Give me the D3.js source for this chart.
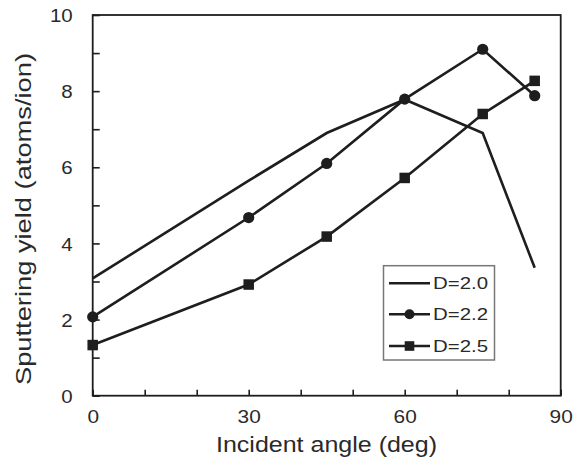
<!DOCTYPE html>
<html><head><meta charset="utf-8">
<script src="https://cdn.jsdelivr.net/npm/d3@7/dist/d3.min.js"></script>
<style>body{margin:0;background:#fff}svg{display:block}text{font-family:"Liberation Sans",Arial,sans-serif;fill:#2a2a2a}</style>
</head><body><svg id="c" width="573" height="465"></svg>
<script>
const angles = [0, 30, 45, 60, 75, 85];
const d20 = [3.08, 5.65, 6.9, 7.78, 6.9, 3.36];
const d22 = [2.07, 4.68, 6.1, 7.79, 9.1, 7.88];
const d25 = [1.33, 2.92, 4.18, 5.72, 7.4, 8.27];
const seriesNames = ["D=2.0", "D=2.2", "D=2.5"];
const xMajor = [0, 30, 60, 90];
const xMinor = [10, 20, 40, 50, 70, 80];
const yMajor = [0, 2, 4, 6, 8, 10];
const yMinor = [1, 3, 5, 7, 9];

const svg = d3.select("#c");
const L = 92.7, R = 560.7, T = 15, B = 395.7;
const x = d3.scaleLinear().domain([0, 90]).range([L, R]);
const y = d3.scaleLinear().domain([0, 10]).range([B, T]);
const ink = "#1e1e1e";
const txt = "#2a2a2a";

// frame
svg.append("rect").attr("x", L).attr("y", T).attr("width", R - L).attr("height", B - T)
  .attr("fill", "none").attr("stroke", ink).attr("stroke-width", 1.8);

// x axis ticks (inward)
const xAx = svg.append("g").attr("transform", `translate(0,${B})`)
  .call(d3.axisTop(x).tickValues(xMajor.concat(xMinor)).tickSize(6).tickFormat(""));
xAx.select(".domain").remove();
xAx.selectAll("line").attr("stroke", ink).attr("stroke-width", 1.6);
const xLab = svg.append("g").attr("transform", `translate(0,${B})`)
  .call(d3.axisBottom(x).tickValues(xMajor).tickSize(0).tickPadding(0));
xLab.select(".domain").remove();
xLab.selectAll("text").attr("y", 27.6).attr("dy", null).attr("font-size", 18.5)
  .style("font-family", "Liberation Sans, Arial, sans-serif").attr("fill", txt)
  .each(function(d){ const s = String(d); d3.select(this).attr("textLength", s.length * 11.6).attr("lengthAdjust", "spacingAndGlyphs"); });

// y axis ticks (inward)
const yAx = svg.append("g").attr("transform", `translate(${L},0)`)
  .call(d3.axisRight(y).tickValues(yMajor.concat(yMinor)).tickSize(7).tickFormat(""));
yAx.select(".domain").remove();
yAx.selectAll("line").attr("stroke", ink).attr("stroke-width", 1.6);
const yLab = svg.append("g").attr("transform", `translate(${L},0)`)
  .call(d3.axisLeft(y).tickValues(yMajor).tickSize(0).tickPadding(20));
yLab.select(".domain").remove();
yLab.selectAll("text").attr("dy", "0.36em").attr("font-size", 18.5)
  .style("font-family", "Liberation Sans, Arial, sans-serif").attr("fill", txt)
  .each(function(d){ const s = String(d); d3.select(this).attr("textLength", s.length * 11.4).attr("lengthAdjust", "spacingAndGlyphs"); });

// axis titles
svg.append("text").attr("x", (216 + 437) / 2).attr("y", 452).attr("text-anchor", "middle")
  .attr("font-size", 22).attr("textLength", 221).attr("lengthAdjust", "spacingAndGlyphs")
  .text("Incident angle (deg)");
svg.append("text").attr("transform", "translate(31,219) rotate(-90)").attr("text-anchor", "middle")
  .attr("font-size", 22).attr("textLength", 332).attr("lengthAdjust", "spacingAndGlyphs")
  .text("Sputtering yield (atoms/ion)");

// lines
const line = d3.line().x((d, i) => x(angles[i])).y(d => y(d));
const data = [d20, d22, d25];
data.forEach(s => {
  svg.append("path").datum(s).attr("d", line).attr("fill", "none")
    .attr("stroke", ink).attr("stroke-width", 2.6).attr("stroke-linejoin", "miter");
});
// markers
svg.append("g").selectAll("circle").data(d22).join("circle")
  .attr("cx", (d, i) => x(angles[i])).attr("cy", d => y(d)).attr("r", 5.6).attr("fill", ink);
const sq = 10.5;
svg.append("g").selectAll("rect").data(d25).join("rect")
  .attr("x", (d, i) => x(angles[i]) - sq / 2).attr("y", d => y(d) - sq / 2)
  .attr("width", sq).attr("height", sq).attr("fill", ink);

// legend
const lg = svg.append("g");
lg.append("rect").attr("x", 383.5).attr("y", 265.7).attr("width", 111).attr("height", 94.3)
  .attr("fill", "#fff").attr("stroke", "#777").attr("stroke-width", 1.5);
const rows = [283.3, 314.3, 346];
seriesNames.forEach((n, i) => {
  const yy = rows[i];
  lg.append("line").attr("x1", 389).attr("x2", 430).attr("y1", yy).attr("y2", yy)
    .attr("stroke", ink).attr("stroke-width", 2.4);
  if (i === 1) lg.append("circle").attr("cx", 409.5).attr("cy", yy).attr("r", 5).attr("fill", ink);
  if (i === 2) lg.append("rect").attr("x", 409.5 - 4.8).attr("y", yy - 4.8).attr("width", 9.6).attr("height", 9.6).attr("fill", ink);
  lg.append("text").attr("x", 433).attr("y", yy + 6).attr("font-size", 16)
    .attr("textLength", 55).attr("lengthAdjust", "spacingAndGlyphs").text(n);
});
</script></body></html>
